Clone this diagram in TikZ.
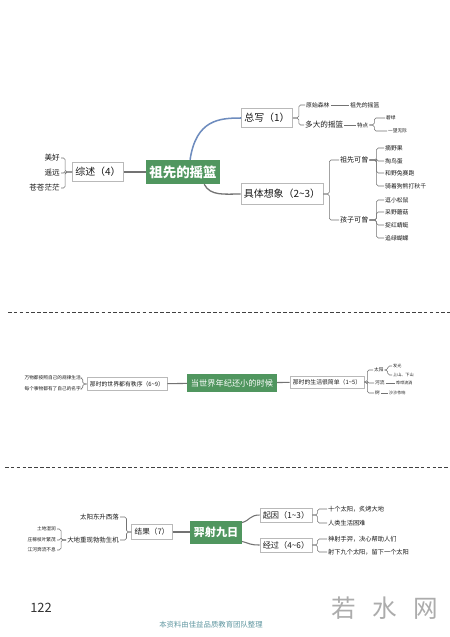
\documentclass[tikz,border=0pt]{standalone}
\usepackage{fontspec}
\setmainfont{Noto Sans CJK SC}
\usetikzlibrary{positioning}
\definecolor{mapgreen}{RGB}{80,150,95}
\definecolor{branchblue}{RGB}{110,140,190}
\definecolor{linegray}{RGB}{115,115,115}
\definecolor{footteal}{RGB}{95,150,160}
\newcommand\fsize[1]{\fontsize{#1}{#1}\selectfont}

\begin{document}
\begin{tikzpicture}[x=0.03cm,y=-0.03cm,
	root node/.style={fill=mapgreen,text=white,inner xsep=3pt,inner ysep=2pt},
	main node/.style={draw=gray!55,fill=white,text=black!90,inner xsep=2.5pt,inner ysep=1.5pt},
	leaf node/.style={inner sep=0.8pt,text=black!90},
	link/.style={draw=linegray,line width=0.9pt},
	thin link/.style={draw=linegray,line width=0.4pt},
	brace/.style={draw=linegray,line width=0.45pt,rounded corners=1.5pt}]
	
	\fill[white] (0,0) rectangle (450,637);
	\useasboundingbox (0,0) rectangle (450,637);
	
	% 祖先的摇篮
	\node[root node,font={\fsize{11.5}\bfseries},minimum height=0.72cm] (zxyl) at (183,172) {祖先的摇篮};
	\node[main node,font={\fsize{8.5}},minimum height=0.56cm] (zs) at (98,172) {综述（4）};
	\node[main node,font={\fsize{8.5}},minimum height=0.56cm] (zw) at (267,118) {总写（1）};
	\node[main node,font={\fsize{8.5}},minimum height=0.62cm] (jtxx) at (282,194) {具体想象（2\textasciitilde3）};
	
	\node[leaf node,font={\fsize{6.5}},anchor=east] (mh) at (61,158) {美好};
	\node[leaf node,font={\fsize{6.5}},anchor=east] (yy) at (61,173) {遥远};
	\node[leaf node,font={\fsize{6.5}},anchor=east] (ccmm) at (61,188) {苍苍茫茫};
	
	\node[leaf node,font={\fsize{5}},anchor=west] (yssl) at (305,105) {原始森林};
	\node[leaf node,font={\fsize{5}},anchor=west] (zxdyl) at (349,105) {祖先的摇篮};
	\node[leaf node,font={\fsize{6.5}},anchor=west] (dddyl) at (304,125) {多大的摇篮};
	\node[leaf node,font={\fsize{4.7}},anchor=west] (td) at (356,125) {特点};
	\node[leaf node,font={\fsize{4}},anchor=west] (bl) at (385,118) {碧绿};
	\node[leaf node,font={\fsize{4}},anchor=west] (ywwj) at (387,131) {一望无际};
	
	\node[leaf node,font={\fsize{6}},anchor=west] (zxkc) at (339,160) {祖先可曾};
	\node[leaf node,font={\fsize{6}},anchor=west] (hzkc) at (339,220) {孩子可曾};
	\node[leaf node,font={\fsize{5}},anchor=west] (zyg) at (384,148) {摘野果};
	\node[leaf node,font={\fsize{5}},anchor=west] (tnd) at (384,161) {掏鸟蛋};
	\node[leaf node,font={\fsize{5}},anchor=west] (ytsp) at (384,173) {和野兔赛跑};
	\node[leaf node,font={\fsize{5}},anchor=west] (qzgx) at (384,186) {骑着狗熊打秋千};
	\node[leaf node,font={\fsize{5}},anchor=west] (dxss) at (384,200) {逗小松鼠};
	\node[leaf node,font={\fsize{5}},anchor=west] (cymg) at (384,212) {采野蘑菇};
	\node[leaf node,font={\fsize{5}},anchor=west] (zhqt) at (384,225) {捉红蜻蜓};
	\node[leaf node,font={\fsize{5}},anchor=west] (zlhd) at (384,238) {追绿蝴蝶};
	
	\draw[link] (zs) -- (zxyl);
	\draw[link,draw=branchblue,line width=1.3pt] (zxyl.60) .. controls +(6,-40) and +(-22,0) .. (zw.west);
	\draw[link,line width=1.1pt] (zxyl.-30) .. controls +(6,12) and +(-16,0) .. (jtxx.west);
	\foreach \n in {mh,yy,ccmm}
		\draw[brace] (zs.west) -- ++(-7,0) |- (\n.east);
	\foreach \n in {yssl,dddyl}
		\draw[brace] (zw.east) -- ++(6,0) |- (\n.west);
	\draw[thin link] (yssl) -- (zxdyl);
	\draw[thin link] (dddyl) -- (td);
	\foreach \n in {bl,ywwj}
		\draw[brace] (td.east) -- ++(5,0) |- (\n.west);
	\foreach \n in {zxkc,hzkc}
		\draw[brace] (jtxx.east) -- ++(6,0) |- (\n.west);
	\foreach \n in {zyg,tnd,ytsp,qzgx}
		\draw[brace] (zxkc.east) -- ++(7,0) |- (\n.west);
	\foreach \n in {dxss,cymg,zhqt,zlhd}
		\draw[brace] (hzkc.east) -- ++(7,0) |- (\n.west);
	
	\draw[dash pattern=on 3pt off 2pt,line width=0.7pt,black!75] (8,312) -- (450,312);
	
	% 当世界年纪还小的时候
	\node[root node,font={\fsize{7}},minimum height=0.54cm] (dsj) at (232,383) {当世界年纪还小的时候};
	\node[main node,font={\fsize{5}},minimum height=0.38cm] (ysx) at (127,384) {那时的世界都有秩序（6\textasciitilde9）};
	\node[main node,font={\fsize{5}},minimum height=0.36cm] (shjd) at (327,382) {那时的生活很简单（1\textasciitilde5）};
	
	\node[leaf node,font={\fsize{4}},anchor=east] (wwsh) at (82,378) {万物都按照自己的规律生活};
	\node[leaf node,font={\fsize{4}},anchor=east] (mgsw) at (82,389) {每个事物都有了自己的名字};
	
	\node[leaf node,font={\fsize{4}},anchor=west] (ty) at (373,370) {太阳};
	\node[leaf node,font={\fsize{4}},anchor=west] (hl) at (374,383) {河流};
	\node[leaf node,font={\fsize{4}},anchor=west] (shu) at (374,393) {树};
	\node[leaf node,font={\fsize{3.5}},anchor=west] (fg) at (392,366) {发光};
	\node[leaf node,font={\fsize{3.5}},anchor=west] (ssxs) at (392,375) {上山、下山};
	\node[leaf node,font={\fsize{3.5}},anchor=west] (hhlt) at (395,383) {哗哗流淌};
	\node[leaf node,font={\fsize{3.5}},anchor=west] (sszx) at (388,393) {沙沙作响};
	
	\draw[link] (ysx) -- (dsj);
	\draw[link] (dsj) -- (shjd);
	\foreach \n in {wwsh,mgsw}
		\draw[brace] (ysx.west) -- ++(-4,0) |- (\n.east);
	\foreach \n in {ty,hl,shu}
		\draw[brace] (shjd.east) -- ++(3,0) |- (\n.west);
	\foreach \n in {fg,ssxs}
		\draw[brace] (ty.east) -- ++(3,0) |- (\n.west);
	\draw[thin link] (hl) -- (hhlt);
	\draw[thin link] (shu) -- (sszx);
	
	\draw[dash pattern=on 3pt off 2pt,line width=0.7pt,black!75] (5,467) -- (450,467);
	
	% 羿射九日
	\node[root node,font={\fsize{9.5}\bfseries},minimum height=0.69cm] (ysjr) at (216,532) {羿射九日};
	\node[main node,font={\fsize{6.5}},minimum height=0.45cm] (jg) at (152,532) {结果（7）};
	\node[main node,font={\fsize{7}},minimum height=0.42cm] (qy) at (286,515) {起因（1\textasciitilde3）};
	\node[main node,font={\fsize{7}},minimum height=0.42cm] (jgo) at (286,545) {经过（4\textasciitilde6）};
	
	\node[leaf node,font={\fsize{5.5}},anchor=east] (tydx) at (120,517) {太阳东升西落};
	\node[leaf node,font={\fsize{5.5}},anchor=east] (ddcx) at (120,540) {大地重现勃勃生机};
	\node[leaf node,font={\fsize{4}},anchor=east] (tdsr) at (57,529) {土地湿润};
	\node[leaf node,font={\fsize{4}},anchor=east] (zjzy) at (57,540) {庄稼枝叶繁茂};
	\node[leaf node,font={\fsize{4}},anchor=east] (jhbl) at (57,550) {江河奔流不息};
	
	\node[leaf node,font={\fsize{5.3}},anchor=west] (sgty) at (327,509) {十个太阳，炙烤大地};
	\node[leaf node,font={\fsize{5.3}},anchor=west] (rlsh) at (327,523) {人类生活困难};
	\node[leaf node,font={\fsize{5.3}},anchor=west] (sssy) at (327,539) {神射手羿，决心帮助人们};
	\node[leaf node,font={\fsize{5.3}},anchor=west] (sxjg) at (327,552) {射下九个太阳，留下一个太阳};
	
	\draw[link] (jg) -- (ysjr);
	\draw[link] (ysjr.20) .. controls +(8,-2) and +(-10,0) .. (qy.west);
	\draw[link] (ysjr.-20) .. controls +(8,2) and +(-10,0) .. (jgo.west);
	\foreach \n in {tydx,ddcx}
		\draw[brace] (jg.west) -- ++(-5,0) |- (\n.east);
	\foreach \n in {tdsr,zjzy,jhbl}
		\draw[brace] (ddcx.west) -- ++(-5,0) |- (\n.east);
	\foreach \n in {sgty,rlsh}
		\draw[brace] (qy.east) -- ++(5,0) |- (\n.west);
	\foreach \n in {sssy,sxjg}
		\draw[brace] (jgo.east) -- ++(5,0) |- (\n.west);
	
	% page foot
	\node[font={\fsize{11}},text=black!80] (ym) at (41,608) {122};
	\node[font={\fsize{6.3}},text=footteal] (zl) at (211,625) {本资料由佳益品质教育团队整理};
	\node[font={\fsize{21}},text=gray!65] (rsw) at (385,608) {若\hspace{14pt}水\hspace{14pt}网};
\end{tikzpicture}
\end{document}
